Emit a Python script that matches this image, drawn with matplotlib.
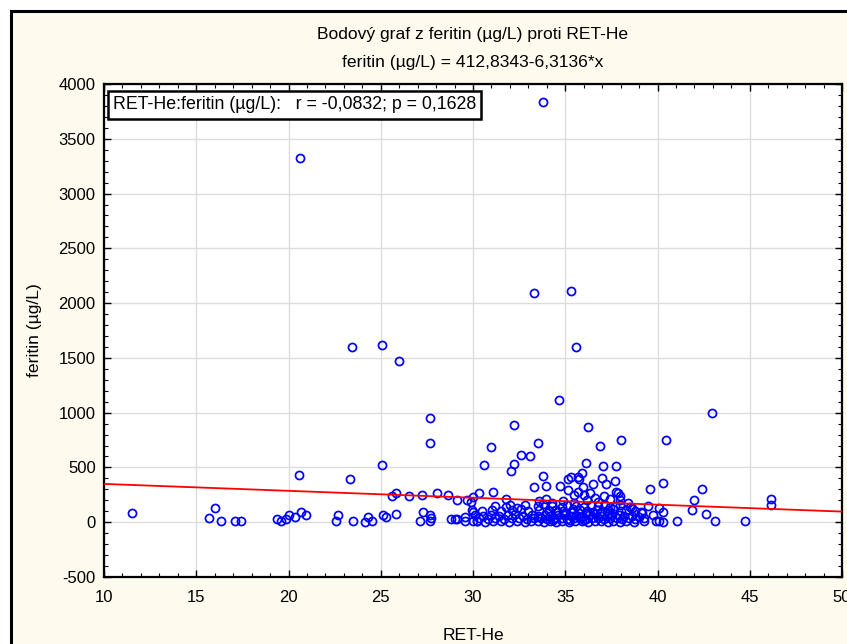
import matplotlib
matplotlib.use("Agg")
import matplotlib.pyplot as plt
from matplotlib.patches import Rectangle
from matplotlib.ticker import MultipleLocator

plt.rcParams["axes.unicode_minus"] = False

title_line1 = "Bodový graf z feritin (µg/L) proti RET-He"
title_line2 = "feritin (µg/L) = 412,8343-6,3136*x"
stat_text = "RET-He:feritin (µg/L):   r = -0,0832; p = 0,1628"
x_label = "RET-He"
y_label = "feritin (µg/L)"
intercept = 412.8343
slope = -6.3136
x_limits = (10, 50)
y_limits = (-500, 4000)

# left region (RET-He < 30.5)
ret_left = [11.5, 15.7, 16.0, 16.35, 17.1, 17.4, 19.4, 19.6, 19.85, 20.0, 20.35, 20.7,
            20.95, 20.55, 20.6, 22.6, 22.7, 23.35, 23.45, 23.5, 24.15, 24.3, 24.5,
            25.05, 25.05, 25.1, 25.3, 25.6, 25.85, 25.85, 26.0, 26.55, 27.15, 27.25,
            27.3, 27.65, 27.65, 27.65, 27.65, 27.75, 28.05, 28.65, 28.8, 29.0, 29.15,
            29.15, 29.55, 29.55, 29.7, 29.9, 30.0, 30.0, 30.0, 30.2, 30.3]
fer_left = [80, 40, 130, 10, 10, 10, 25, 10, 25, 65, 50, 90,
            65, 430, 3320, 10, 65, 390, 1600, 10, 0, 50, 10,
            520, 1615, 65, 50, 240, 265, 75, 1470, 240, 10, 250,
            90, 955, 725, 65, 10, 35, 265, 250, 25, 25, 25,
            200, 10, 50, 200, 185, 230, 90, 10, 10, 265]

# upper and middle points of the main cluster
ret_mid = [30.6, 31.0, 31.1, 31.8, 32.05, 32.2, 32.2, 32.6, 33.1, 33.3, 33.3, 33.55,
           33.8, 33.8, 33.95, 33.95, 34.65, 34.7, 35.15, 35.3, 35.3, 35.15, 35.45,
           35.6, 35.7, 35.75, 35.9, 35.7, 36.0, 36.1, 36.25, 36.35, 36.5, 36.6, 36.9,
           37.0, 37.05, 37.2, 37.7, 37.75, 37.75, 37.85, 37.95, 37.95, 38.0, 39.6,
           40.3, 40.45, 42.4, 42.0, 41.85, 42.65, 42.95, 43.1, 44.75, 46.15, 46.15,
           41.05, 39.5, 40.1, 40.3, 39.75, 39.15, 39.25, 39.25, 39.9, 40.1, 40.3,
           34.9, 35.5, 36.2, 36.8, 37.4, 34.3, 33.6, 35.95, 37.1, 38.4]
fer_mid = [520, 685, 280, 215, 465, 535, 885, 615, 600, 2090, 320, 725,
           3840, 425, 330, 215, 1115, 330, 390, 415, 2110, 290, 245,
           1600, 415, 390, 445, 280, 245, 545, 870, 265, 345, 225, 695,
           400, 510, 345, 375, 510, 280, 265, 235, 200, 750, 305,
           360, 750, 305, 200, 115, 75, 995, 10, 10, 210, 160,
           10, 145, 130, 90, 65, 80, 40, 10, 10, 10, 0,
           190, 175, 200, 185, 210, 180, 195, 320, 240, 180]

# dense lower part of the main cluster
ret_low = [31.2, 31.8, 32.0, 32.4, 32.8, 33.5, 33.8, 34.3, 34.8, 35.1, 35.6, 36.0,
           36.4, 36.8, 37.15, 37.4, 37.7, 37.95, 38.5, 38.6,
           29.95, 30.5, 31.05, 31.5, 32.1, 32.6, 33.0, 33.6, 34.1, 34.5, 34.9, 35.4,
           35.8, 36.2, 36.7, 37.0, 37.3, 37.6, 38.0, 38.3, 38.8, 39.1,
           30.1, 30.55, 31.0, 31.4, 31.9, 32.3, 32.7, 33.2, 33.5, 33.9, 34.2, 34.6,
           34.95, 35.3, 35.6, 35.9, 36.3, 36.6, 36.95, 37.25, 37.55, 37.9, 38.2, 38.6, 39.0,
           30.3, 30.8, 31.2, 31.7, 32.1, 32.5, 32.9, 33.3, 33.7, 34.0, 34.4, 34.8,
           35.1, 35.45, 35.8, 36.1, 36.45, 36.8, 37.1, 37.45, 37.8, 38.1, 38.45, 38.8,
           30.2, 30.65, 31.1, 31.5, 31.95, 32.4, 32.8, 33.15, 33.5, 33.85, 34.15, 34.5,
           34.85, 35.2, 35.55, 35.9, 36.25, 36.6, 36.95, 37.3, 37.6, 37.95, 38.3, 38.7,
           34.0, 34.6, 35.0, 35.4, 35.75, 36.15, 36.5, 36.9, 37.35, 34.35, 35.25, 36.0]
fer_low = [150, 140, 160, 130, 155, 145, 165, 150, 140, 160, 150, 135,
           155, 145, 160, 140, 150, 155, 140, 130,
           110, 105, 115, 100, 110, 120, 105, 110, 100, 115, 105, 120,
           110, 100, 115, 105, 110, 120, 100, 110, 105, 95,
           65, 60, 70, 55, 65, 75, 60, 70, 55, 65, 60, 70,
           65, 55, 70, 60, 65, 75, 60, 55, 70, 65, 60, 55, 50,
           35, 30, 40, 30, 35, 40, 30, 35, 40, 30, 35, 40,
           30, 35, 40, 30, 35, 40, 30, 35, 40, 30, 35, 30,
           10, 5, 10, 15, 5, 10, 5, 10, 15, 5, 10, 5,
           10, 5, 15, 10, 5, 10, 15, 5, 10, 5, 10, 5,
           85, 90, 80, 90, 85, 80, 90, 85, 80, 20, 20, 20]

ret_he = ret_left + ret_mid + ret_low
feritin = fer_left + fer_mid + fer_low

font = ["Liberation Sans", "DejaVu Sans"]

fig = plt.figure(figsize=(8.47, 6.44), dpi=100, facecolor="white")
frame = Rectangle((11 / 847, -0.1), 1.2, 1.1 - 11 / 644,
                  transform=fig.transFigure, facecolor="#FFFAEE",
                  edgecolor="black", linewidth=2.2, zorder=-10)
fig.patches.append(frame)

ax = fig.add_axes([104 / 847, 1 - 577 / 644, (842 - 104) / 847, (577 - 84) / 644])
ax.set_zorder(2)
ax.set_facecolor("white")
ax.set_xlim(*x_limits)
ax.set_ylim(*y_limits)
ax.xaxis.set_major_locator(MultipleLocator(5))
ax.xaxis.set_minor_locator(MultipleLocator(1))
ax.yaxis.set_major_locator(MultipleLocator(500))
ax.yaxis.set_minor_locator(MultipleLocator(100))
ax.grid(True, which="major", color="#DCDCDC", linewidth=1.0, zorder=0)
ax.set_axisbelow(True)
ax.tick_params(which="both", direction="in", top=True, right=True, colors="black",
               labelsize=12)
ax.tick_params(which="major", length=5, width=1)
ax.tick_params(which="minor", length=3, width=0.8)
ax.tick_params(axis="x", pad=9)
ax.tick_params(axis="y", pad=6)
for lab in ax.get_xticklabels() + ax.get_yticklabels():
    lab.set_family(font)
for sp in ax.spines.values():
    sp.set_linewidth(1.6)
    sp.set_color("black")

ax.plot(ret_he, feritin, linestyle="none", marker="o", markersize=5.8,
        markerfacecolor="none", markeredgecolor="#0000FF", markeredgewidth=1.25, zorder=3)
ax.plot(list(x_limits), [intercept + slope * x_limits[0], intercept + slope * x_limits[1]],
        color="#FF0000", linewidth=1.3, zorder=4)

ax.text(0.012, 0.975, stat_text, transform=ax.transAxes, ha="left", va="top",
        fontsize=12.8, family=font, zorder=6,
        bbox=dict(boxstyle="square,pad=0.3", facecolor="white", edgecolor="black",
                  linewidth=1.8))

fig.text(0.5 * (104 + 842) / 847, 1 - 35 / 644, title_line1, ha="center", va="center",
         fontsize=12.6, family=font)
fig.text(0.5 * (104 + 842) / 847, 1 - 62 / 644, title_line2, ha="center", va="center",
         fontsize=12.6, family=font)
ax.set_xlabel(x_label, fontsize=12.6, family=font, labelpad=17)
ax.set_ylabel(y_label, fontsize=12.6, family=font, labelpad=12)

fig.savefig("out.png", dpi=100, facecolor="white")
